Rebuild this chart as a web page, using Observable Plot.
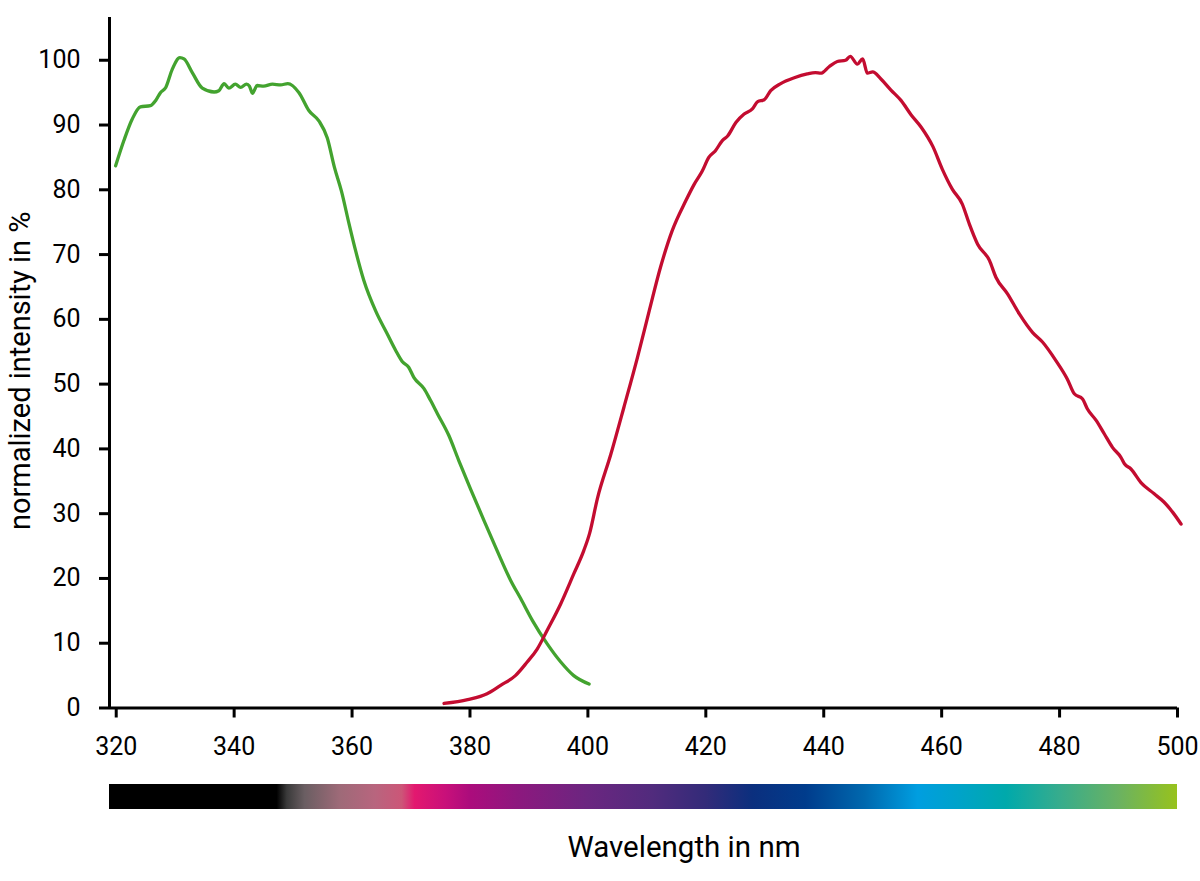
<!DOCTYPE html>
<html><head><meta charset="utf-8">
<script src="https://cdn.jsdelivr.net/npm/d3@7"></script>
<script src="https://cdn.jsdelivr.net/npm/@observablehq/plot@0.6"></script>
<style>
body{margin:0;background:#fff;font-family:Roboto,sans-serif;}
#wrap{position:relative;width:1200px;height:881px;overflow:hidden;}
#wrap svg{display:block;}
#title{position:absolute;left:434px;top:831px;width:500px;text-align:center;font-size:29.5px;line-height:32px;color:#000;}
</style></head><body><div id="wrap"></div>
<script>
// axis domain / ticks
const xMin = 318.86;
const xMax = 500;
const yMax = 106.6;
const xTicks = [320, 340, 360, 380, 400, 420, 440, 460, 480, 500];
const yTicks = [0, 10, 20, 30, 40, 50, 60, 70, 80, 90, 100];
const yLabel = "normalized intensity in %";
const xLabel = "Wavelength in nm";

// green curve (excitation)
const greenWl = [319.9, 321.3, 322.7, 324.1, 325.8, 326.7, 327.5, 328.4, 329.5, 330.8, 331.5, 332.9, 334.6, 336.6, 337.4, 338.3, 339.1, 340.2, 341.1, 342.1, 342.6, 343.1, 343.9, 345.0, 346.5, 347.9, 349.1, 351.0, 352.7, 354.4, 355.8, 357.0, 358.2, 359.5, 360.6, 362.0, 364.0, 366.0, 367.4, 368.5, 369.6, 370.5, 372.2, 373.3, 374.5, 376.4, 378.1, 380.1, 382.4, 384.6, 386.9, 388.6, 390.6, 393.1, 395.4, 397.6, 400.2];
const greenVal = [83.7, 87.6, 90.9, 92.8, 93.0, 93.8, 95.0, 95.8, 98.6, 100.4, 100.2, 98.1, 95.7, 95.1, 95.3, 96.4, 95.7, 96.3, 95.8, 96.3, 96.0, 94.9, 96.1, 96.0, 96.3, 96.2, 96.4, 95.0, 92.2, 90.6, 88.0, 83.5, 79.8, 74.7, 70.6, 66.0, 61.3, 57.7, 55.2, 53.5, 52.6, 51.0, 49.3, 47.5, 45.4, 42.1, 38.2, 33.8, 28.9, 24.3, 19.7, 16.9, 13.5, 9.9, 7.1, 5.0, 3.7];

// red curve (emission)
const redWl = [375.6, 379.6, 382.9, 385.2, 387.7, 389.7, 391.4, 393.1, 395.4, 397.6, 399.3, 400.3, 401.6, 403.9, 406.1, 408.4, 410.4, 412.3, 414.3, 416.6, 418.0, 419.4, 420.5, 421.6, 422.8, 423.7, 425.1, 426.5, 427.9, 428.8, 429.9, 431.0, 432.7, 435.0, 437.2, 438.6, 439.5, 440.9, 442.3, 443.7, 444.5, 445.7, 446.6, 447.4, 448.3, 449.7, 451.4, 453.1, 454.8, 456.5, 458.5, 460.1, 461.8, 463.5, 464.7, 466.1, 468.1, 469.2, 471.2, 473.2, 475.4, 477.1, 479.4, 481.3, 482.5, 483.9, 484.7, 486.2, 487.6, 489.0, 490.4, 491.0, 492.1, 493.8, 496.0, 497.7, 499.2, 500.6];
const redVal = [0.7, 1.3, 2.2, 3.5, 5.0, 7.1, 9.1, 12.0, 16.1, 20.7, 24.3, 27.0, 32.3, 39.2, 46.4, 54.1, 61.3, 68.0, 73.7, 78.3, 80.8, 82.9, 85.0, 86.0, 87.6, 88.3, 90.4, 91.7, 92.5, 93.6, 93.9, 95.3, 96.4, 97.3, 97.9, 98.1, 98.0, 99.0, 99.8, 100.0, 100.6, 99.4, 100.2, 98.0, 98.2, 97.1, 95.4, 93.8, 91.6, 89.7, 86.7, 83.2, 80.1, 77.8, 74.7, 71.6, 69.1, 66.5, 63.9, 60.8, 58.0, 56.5, 53.6, 50.8, 48.5, 47.7, 46.2, 44.4, 42.3, 40.2, 38.7, 37.7, 36.9, 34.8, 33.1, 31.8, 30.2, 28.4];

// spectrum bar stops
const spectrumWl = [318.86, 347.3, 349.0, 352.0, 358.0, 364.0, 368.5, 370.7, 376.0, 380.0, 388.0, 400.0, 411.0, 420.0, 428.0, 437.0, 447.0, 456.0, 463.0, 471.0, 480.0, 490.0, 500.0];
const spectrumColor = ["#000000", "#000000", "#3a3a3a", "#6a5e62", "#9e6a78", "#b8657e", "#cc5678", "#e3186f", "#c8107a", "#ac0c7c", "#8d187e", "#6b2680", "#512b7d", "#332b79", "#0b2f7e", "#003c8c", "#0068ae", "#009ee0", "#00a3c9", "#00a9ab", "#36ac8d", "#6ab262", "#97c21d"];

const green = greenWl.map((x, i) => ({x, y: greenVal[i]}));
const red = redWl.map((x, i) => ({x, y: redVal[i]}));

const W = 1200, marginLeft = 109, marginRight = 23;
const wrap = document.getElementById("wrap");

const main = Plot.plot({
  width: W, height: 770,
  marginLeft, marginRight, marginTop: 17, marginBottom: 62.5,
  style: {fontFamily: "Roboto, sans-serif", fontSize: "25px", color: "#000", background: "#fff", overflow: "visible"},
  x: {domain: [xMin, xMax], axis: null},
  y: {domain: [0, yMax], axis: null},
  marks: [
    Plot.axisX({ticks: xTicks, tickSize: 10, tickPadding: 19, strokeWidth: 3, tickFormat: d => String(d), label: null, fontSize: 25}),
    Plot.axisY({ticks: yTicks, tickSize: 10, tickPadding: 19, strokeWidth: 3, tickFormat: d => String(d), label: null, fontSize: 25}),
    Plot.ruleX([xMin], {strokeWidth: 3, stroke: "#000"}),
    Plot.ruleY([0], {strokeWidth: 3, stroke: "#000"}),
    Plot.text([yLabel], {frameAnchor: "left", textAnchor: "middle", lineAnchor: "middle", rotate: -90, dx: -89, dy: 8, fontSize: 29, fill: "#000"}),
    Plot.line(green, {x: "x", y: "y", stroke: "#43a32f", strokeWidth: 3.3, curve: "monotone-x"}),
    Plot.line(red, {x: "x", y: "y", stroke: "#c30c30", strokeWidth: 3.3, curve: "monotone-x"})
  ]
});
wrap.appendChild(main);

const bar = Plot.plot({
  width: W, height: 45,
  marginLeft, marginRight, marginTop: 14, marginBottom: 6,
  style: {background: "#fff"},
  x: {domain: [xMin, xMax], axis: null},
  marks: [
    Plot.rect([{x1: xMin, x2: xMax}], {x1: "x1", x2: "x2", fill: "url(#spectrumGrad)"})
  ]
});
const ns = "http://www.w3.org/2000/svg";
const defs = document.createElementNS(ns, "defs");
const grad = document.createElementNS(ns, "linearGradient");
grad.setAttribute("id", "spectrumGrad");
grad.setAttribute("x1", "0"); grad.setAttribute("x2", "1");
grad.setAttribute("y1", "0"); grad.setAttribute("y2", "0");
spectrumWl.forEach((wl, i) => {
  const s = document.createElementNS(ns, "stop");
  s.setAttribute("offset", ((wl - xMin) / (xMax - xMin)).toFixed(4));
  s.setAttribute("stop-color", spectrumColor[i]);
  grad.appendChild(s);
});
defs.appendChild(grad);
bar.insertBefore(defs, bar.firstChild);
wrap.appendChild(bar);

const t = document.createElement("div");
t.id = "title";
t.textContent = xLabel;
wrap.appendChild(t);
</script>
</body></html>
